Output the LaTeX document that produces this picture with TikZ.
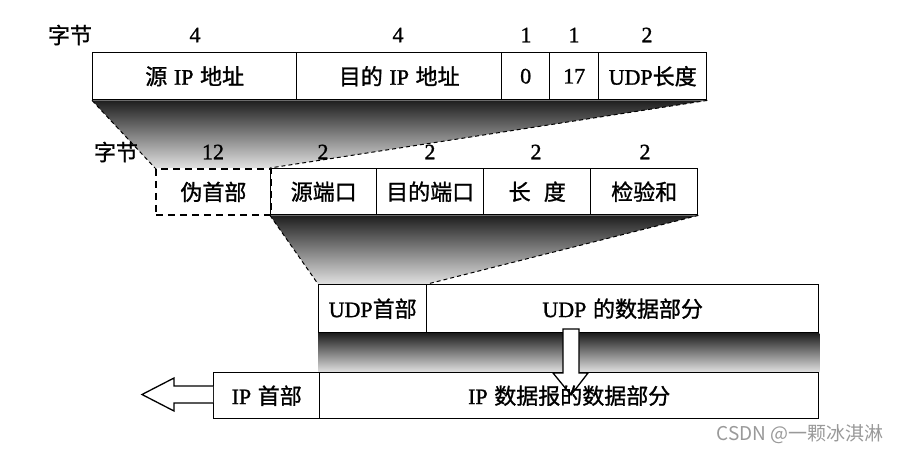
\documentclass[tikz,border=0pt]{standalone}
\usepackage{fontspec}
\setmainfont[FakeBold=1.2,AutoFakeBold=1.2]{Liberation Serif}
\newfontfamily\zhfont[FakeBold=1.2,AutoFakeBold=1.2]{Noto Sans CJK SC}
\newfontfamily\wmfont{Noto Sans CJK SC}
\newcommand\zh[1]{{\zhfont #1}}
\pgfdeclarelayer{bg}
\pgfsetlayers{bg,main}
\begin{document}
\begin{tikzpicture}[x=1pt,y=-1pt,
  fld/.style={draw, line width=1.4pt, inner sep=0pt, anchor=north west,
    font=\fontsize{22}{24}\selectfont},
  num/.style={inner sep=0pt, font=\fontsize{22}{24}\selectfont},
  shd/.style={top color=black!88, bottom color=black!12},
  edge/.style={dash pattern=on 4pt off 3pt, line width=1pt},
  hollow/.style={draw, fill=white, line width=1.3pt, line join=miter}]
\useasboundingbox (0,0) rectangle (901,452);
% row 1
\node[fld, minimum width=204pt, minimum height=47pt] (src)   at (92,52)  {\zh{源}\hspace{0.3em}IP\hspace{0.3em}\zh{地址}};
\node[fld, minimum width=205pt, minimum height=47pt] (dst)   at (296,52) {\zh{目的}\hspace{0.3em}IP\hspace{0.3em}\zh{地址}};
\node[fld, minimum width=48pt,  minimum height=47pt] (zero)  at (501,52) {0};
\node[fld, minimum width=49pt,  minimum height=47pt] (proto) at (549,52) {17};
\node[fld, minimum width=108pt, minimum height=47pt] (ulen)  at (598,52) {UDP\zh{长度}};
\node[num] (b1) at (70,35) {\zh{字节}};
\node[num] (n1) at (195,35) {4};
\node[num] (n2) at (398,35) {4};
\node[num] (n3) at (526,35) {1};
\node[num] (n4) at (574,35) {1};
\node[num] (n5) at (647,35) {2};
% row 2
\node[fld, dash pattern=on 7pt off 5pt, line width=1.8pt, minimum width=115pt, minimum height=46pt] (pseudo) at (155,168) {\zh{伪首部}};
\node[fld, minimum width=106pt, minimum height=46pt] (sport) at (270,168) {\zh{源端口}};
\node[fld, minimum width=107pt, minimum height=46pt] (dport) at (376,168) {\zh{目的端口}};
\node[fld, minimum width=107pt, minimum height=46pt] (len)   at (483,168) {\zh{长\hspace{0.6em}度}};
\node[fld, minimum width=107pt, minimum height=46pt] (csum)  at (590,168) {\zh{检验和}};
\node[num] (b2) at (116,152) {\zh{字节}};
\node[num] (m1) at (213,152) {12};
\node[num] (m2) at (323,152) {2};
\node[num] (m3) at (430,152) {2};
\node[num] (m4) at (536,152) {2};
\node[num] (m5) at (645,152) {2};
% row 3
\node[fld, minimum width=108pt, minimum height=48pt] (uhdr)  at (318,284) {UDP\zh{首部}};
\node[fld, minimum width=392pt, minimum height=48pt] (udata) at (426,284) {UDP\hspace{0.3em}\zh{的数据部分}};
% row 4
\node[fld, minimum width=106pt, minimum height=46pt] (iphdr)  at (213,372) {IP\hspace{0.3em}\zh{首部}};
\node[fld, minimum width=499pt, minimum height=46pt] (ipdata) at (319,372) {};
% shadings
\begin{pgfonlayer}{bg}
\shade[shd] (src.south west) -- (ulen.south east) -- (sport.north west) -- (pseudo.north west) -- cycle;
\shade[shd] (sport.south west) -- (csum.south east) -- (uhdr.north east) -- (uhdr.north west) -- cycle;
\shade[shd] (uhdr.south west) rectangle (ipdata.north east);
\end{pgfonlayer}
\draw[edge] (src.south west) -- (pseudo.north west);
\draw[edge] (ulen.south east) -- (sport.north west);
\draw[edge] (sport.south west) -- (uhdr.north west);
\draw[edge] (csum.south east) -- (uhdr.north east);
% down arrow
\coordinate (dtop) at (571,329);
\draw[hollow] ([xshift=-8pt]dtop) -- ++(0,44) -- ++(-10,0) -- (571,395) -- (588,373) -- ++(-9,0) -- ([xshift=8pt]dtop) -- cycle;
\node[num] (iptxt) at (ipdata.center) {IP\hspace{0.3em}\zh{数据报的数据部分}};
% left arrow
\coordinate (ltip) at (142,394.5);
\draw[hollow] (iphdr.west |- 0,386) -- (174,386) -- (174,378) -- (ltip) -- (174,411) -- (174,403) -- (iphdr.west |- 0,403);
% watermark
\node[inner sep=0pt, text=black!40, font=\wmfont\fontsize{19}{21}\selectfont] (wm) at (800,434) {CSDN @一颗冰淇淋};
\end{tikzpicture}
\end{document}
